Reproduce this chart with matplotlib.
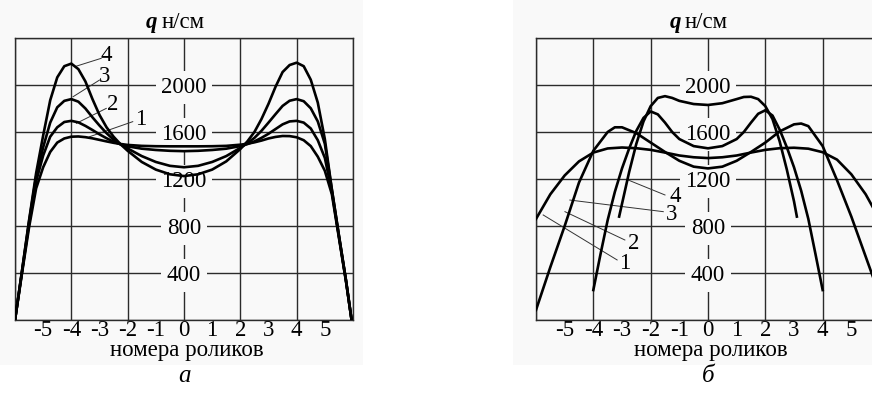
import matplotlib
matplotlib.use('Agg')
import matplotlib.pyplot as plt
from matplotlib.patches import Rectangle

SERIF = 'Liberation Serif'
BG = '#f9f9f9'
GRID = '#2b2b2b'
FS = 16.5

# ---------------- data ----------------
y_values = [400, 800, 1200, 1600, 2000]
y_labels = ['400', '800', '1200', '1600', '2000']
x_ticks = [-5, -4, -3, -2, -1, 0, 1, 2, 3, 4, 5]
x_labels = ['-5', '-4', '-3', '-2', '-1', '0', '1', '2', '3', '4', '5']
grid_x = [-6, -4, -2, 0, 2, 4, 6]
grid_y = [0, 400, 800, 1200, 1600, 2000, 2400]
unit = 'н/см'
xlabel = 'номера роликов'
panel_letters = ['а', 'б']

# panel "а"
xa = [-6, -5.75, -5.5, -5.25, -5, -4.75, -4.5, -4.25, -4, -3.75, -3.5, -3.25, -3,
      -2.75, -2.5, -2.25, -2, -1.5, -1, -0.5, 0,
      0.5, 1, 1.5, 2, 2.25, 2.5, 2.75, 3, 3.25, 3.5, 3.75, 4, 4.25, 4.5, 4.75, 5,
      5.25, 5.5, 5.75, 5.95]
qa1 = [0, 400, 790, 1120, 1300, 1430, 1510, 1545, 1560, 1562, 1556, 1546, 1533,
       1520, 1508, 1498, 1490, 1482, 1479, 1478, 1478,
       1478, 1479, 1482, 1492, 1500, 1512, 1527, 1545, 1558, 1566, 1565, 1555,
       1530, 1480, 1390, 1270, 1070, 700, 330, 0]
qa2 = [0, 410, 820, 1180, 1400, 1560, 1640, 1685, 1695, 1682, 1652, 1617, 1580,
       1547, 1517, 1495, 1478, 1458, 1447, 1440, 1437,
       1440, 1447, 1458, 1480, 1497, 1520, 1550, 1585, 1625, 1665, 1690, 1695,
       1680, 1630, 1530, 1380, 1090, 710, 335, 0]
qa3 = [0, 420, 840, 1220, 1470, 1680, 1810, 1865, 1880, 1858, 1800, 1725, 1655,
       1590, 1535, 1495, 1460, 1395, 1345, 1312, 1300,
       1312, 1345, 1395, 1465, 1505, 1550, 1610, 1680, 1752, 1822, 1866, 1880,
       1862, 1802, 1690, 1500, 1110, 720, 340, 0]
qa4 = [0, 420, 850, 1250, 1570, 1870, 2065, 2160, 2182, 2135, 2030, 1880, 1745,
       1640, 1560, 1495, 1440, 1345, 1280, 1240, 1225,
       1240, 1280, 1350, 1455, 1520, 1600, 1710, 1840, 1985, 2110, 2170, 2190,
       2160, 2045, 1850, 1540, 1110, 720, 340, 0]

# panel "б"
xb1 = [-6, -5.5, -5, -4.5, -4, -3.5, -3, -2.5, -2, -1.5, -1, -0.5, 0,
       0.5, 1, 1.5, 2, 2.5, 3, 3.5, 4, 4.5, 5, 5.5, 6]
qb1 = [860, 1070, 1230, 1350, 1425, 1460, 1468, 1462, 1448, 1425, 1400, 1385, 1378,
       1385, 1400, 1425, 1448, 1462, 1466, 1458, 1428, 1365, 1240, 1070, 850]
xb2 = [-6, -5.5, -5, -4.5, -4, -3.5, -3.25, -3, -2.5, -2, -1.5, -1, -0.5, 0,
       0.5, 1, 1.5, 2, 2.5, 3, 3.25, 3.5, 4, 4.5, 5, 5.5, 6]
qb2 = [85, 450, 800, 1170, 1440, 1600, 1640, 1640, 1590, 1510, 1430, 1355, 1305, 1290,
       1305, 1355, 1430, 1510, 1605, 1665, 1672, 1650, 1480, 1190, 880, 540, 200]
xb3 = [-4, -3.75, -3.5, -3.25, -3, -2.75, -2.5, -2.25, -2, -1.75, -1.5, -1.25, -1, -0.5, 0,
       0.5, 1, 1.25, 1.5, 1.75, 2, 2.25, 2.5, 2.75, 3, 3.25, 3.5, 3.75, 4]
qb3 = [255, 560, 850, 1090, 1290, 1460, 1610, 1720, 1775, 1750, 1680, 1600, 1540, 1480, 1461,
       1480, 1540, 1600, 1680, 1755, 1785, 1740, 1620, 1470, 1300, 1100, 860, 560, 255]
xb4 = [-3.1, -2.75, -2.5, -2.25, -2, -1.75, -1.5, -1.25, -1, -0.5, 0,
       0.5, 1, 1.25, 1.5, 1.75, 2, 2.25, 2.5, 2.75, 3, 3.1]
qb4 = [880, 1260, 1500, 1690, 1820, 1890, 1905, 1890, 1865, 1838, 1830,
       1845, 1880, 1898, 1900, 1880, 1820, 1710, 1520, 1280, 1010, 880]

# leader lines: (label, line start x, y, line end x, y, text x, y)
leaders_a = [
    ('1', -3.35, 1560, -1.82, 1688, -1.53, 1708),
    ('2', -3.82, 1674, -2.76, 1801, -2.53, 1830),
    ('3', -3.94, 1900, -3.00, 2042, -2.82, 2070),
    ('4', -3.88, 2156, -2.94, 2227, -2.76, 2255),
]
leaders_b = [
    ('1', -5.75, 894, -3.17, 511, -2.90, 477),
    ('2', -4.99, 922, -2.90, 681, -2.58, 653),
    ('3', -4.82, 1021, -1.56, 922, -1.27, 894),
    ('4', -2.78, 1191, -1.50, 1064, -1.15, 1049),
]

# ---------------- figure ----------------
fig = plt.figure(figsize=(8.72, 3.94), dpi=100)
fig.patch.set_facecolor('white')
fig.patches.append(Rectangle((0, 29 / 394), 363 / 872, 1, transform=fig.transFigure,
                             fc=BG, ec='none', zorder=-10))
fig.patches.append(Rectangle((513 / 872, 29 / 394), 1, 1, transform=fig.transFigure,
                             fc=BG, ec='none', zorder=-10))

bottom = 74 / 394
height = 282 / 394
ax_a = fig.add_axes([15 / 872, bottom, 338 / 872, height])
ax_b = fig.add_axes([536 / 872, bottom, 344 / 872, height])


def setup(ax, letter):
    ax.set_xlim(-6, 6)
    ax.set_ylim(0, 2400)
    ax.set_facecolor('none')
    for s in ax.spines.values():
        s.set_color(GRID)
        s.set_linewidth(1.0)
    ax.set_xticks(x_ticks)
    ax.set_xticklabels(x_labels, fontfamily=SERIF, fontsize=FS)
    ax.tick_params(axis='x', length=0, pad=0)
    ax.set_yticks([])
    for gx in grid_x:
        ax.axvline(gx, color=GRID, lw=1.0, zorder=1)
    for gy in grid_y:
        ax.axhline(gy, color=GRID, lw=1.0, zorder=1)
    for v, lab in zip(y_values, y_labels):
        ax.text(0, v, lab, ha='center', va='center_baseline', fontsize=FS, family=SERIF,
                bbox=dict(boxstyle='square,pad=0.25', fc=BG, ec='none'), zorder=2)
    ax.text(-0.95, 2553, 'q', ha='right', va='center_baseline', fontsize=FS, family=SERIF,
            fontweight='bold', fontstyle='italic', clip_on=False)
    ax.text(-0.8, 2553, unit, ha='left', va='center_baseline', fontsize=FS, family=SERIF,
            clip_on=False)
    ax.annotate(xlabel, xy=(0.1, -0.108), xycoords=('data', 'axes fraction'),
                ha='center', va='center', fontsize=FS, family=SERIF)
    ax.annotate(letter, xy=(0, -0.2), xycoords=('data', 'axes fraction'),
                ha='center', va='center', fontsize=18, family=SERIF, fontstyle='italic')


def leaders(ax, items):
    for lab, x0, y0, x1, y1, tx, ty in items:
        ax.plot([x0, x1], [y0, y1], color='#333333', lw=0.7, zorder=3)
        ax.text(tx, ty, lab, ha='center', va='center', fontsize=FS, family=SERIF, zorder=4)


setup(ax_a, panel_letters[0])
setup(ax_b, panel_letters[1])

for q in (qa1, qa2, qa3, qa4):
    ax_a.plot(xa, q, color='black', lw=1.9, zorder=5, solid_joinstyle='round')
for xs, q in ((xb1, qb1), (xb2, qb2), (xb3, qb3), (xb4, qb4)):
    ax_b.plot(xs, q, color='black', lw=1.9, zorder=5, solid_joinstyle='round')

leaders(ax_a, leaders_a)
leaders(ax_b, leaders_b)

fig.savefig('out.png', dpi=100)
